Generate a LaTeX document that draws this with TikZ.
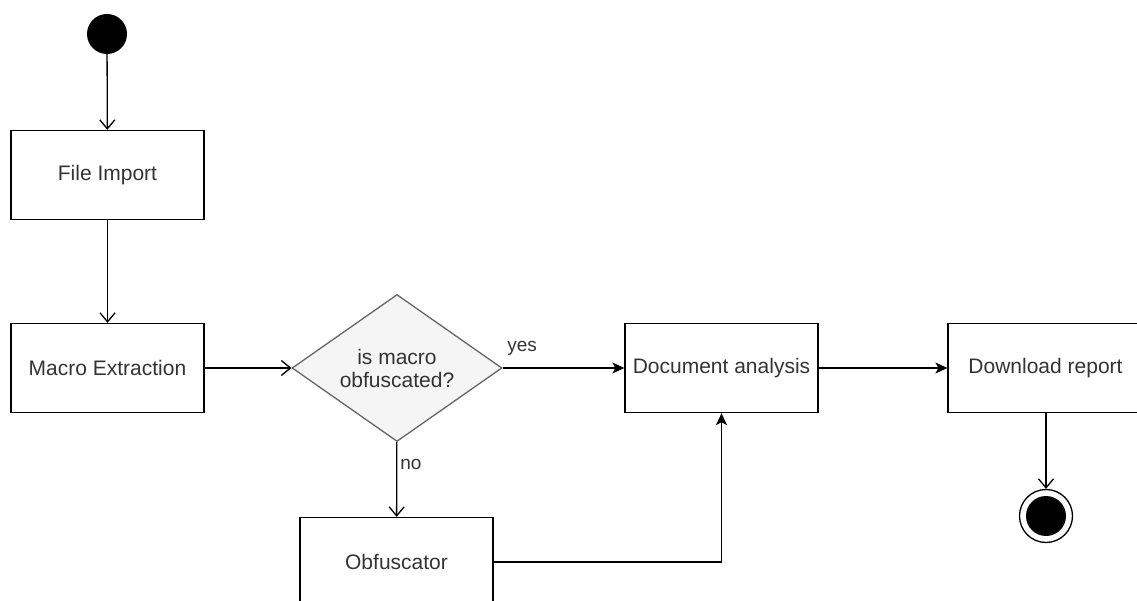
\documentclass[tikz,border=0pt]{standalone}
\usepackage{fontspec}
\setmainfont{Liberation Sans}
\usetikzlibrary{shapes.geometric,arrows.meta}
\definecolor{txt}{HTML}{333333}
\definecolor{dstroke}{HTML}{666666}
\definecolor{dfill}{HTML}{F5F5F5}
\tikzset{
  actbox/.style={draw, line width=1.3pt, minimum width=193pt, minimum height=89pt, inner sep=0pt,
    font=\fontsize{21}{25}\selectfont, text=txt},
  decision/.style={shape=diamond, draw=dstroke, fill=dfill, line width=1.3pt, aspect=1.43,
    minimum width=210pt, minimum height=147pt, inner sep=0pt, align=center,
    font=\fontsize{21}{23}\selectfont, text=txt},
  openarr/.style={line width=1.3pt, -{Straight Barb[length=9pt,width=15pt,line width=1.3pt]}},
  fillarr/.style={line width=1.3pt, -{Stealth[length=12pt,width=11pt,inset=3pt]}},
  lbl/.style={font=\fontsize{19}{22}\selectfont, text=txt, inner sep=0pt}
}
\begin{document}
\begin{tikzpicture}[x=1pt,y=-1pt]
\useasboundingbox (0,0) rectangle (1137,601);
\clip (0,0) rectangle (1137,601);
\node[circle, fill=black, minimum size=40pt, inner sep=0pt] (start) at (107,34) {};
\node[actbox] (file) at (107.5,175) {File Import};
\node[actbox] (macro) at (107.5,368) {Macro Extraction};
\node[decision] (dia) at (397,368) {is macro\\obfuscated?};
\node[actbox] (doc) at (721.5,368) {Document analysis};
\node[actbox, minimum width=195pt] (dl) at (1045.5,368) {Download report};
\node[actbox] (obf) at (396.5,562) {Obfuscator};
\node[circle, draw, line width=1.3pt, minimum size=53pt, inner sep=0pt] (end) at (1046,516) {};
\node[circle, fill=black, minimum size=40pt, inner sep=0pt] (endin) at (end.center) {};
\coordinate (corner) at (doc.south |- obf.east);
\draw[openarr] (start) -- (file);
\draw[openarr] (file) -- (macro);
\draw[openarr] (macro.east) -- (dia.west);
\draw[fillarr] (dia.east) -- node[lbl, pos=0.16, above=12pt] {yes} (doc.west);
\draw[fillarr] (doc.east) -- (dl.west);
\draw[openarr] (dia) -- node[lbl, pos=0.3, right=3pt] {no} (obf);
\draw[fillarr] (obf.east) -- (corner) -- (doc.south);
\draw[openarr] (dl.south -| end.north) -- (end.north);
\end{tikzpicture}
\end{document}
